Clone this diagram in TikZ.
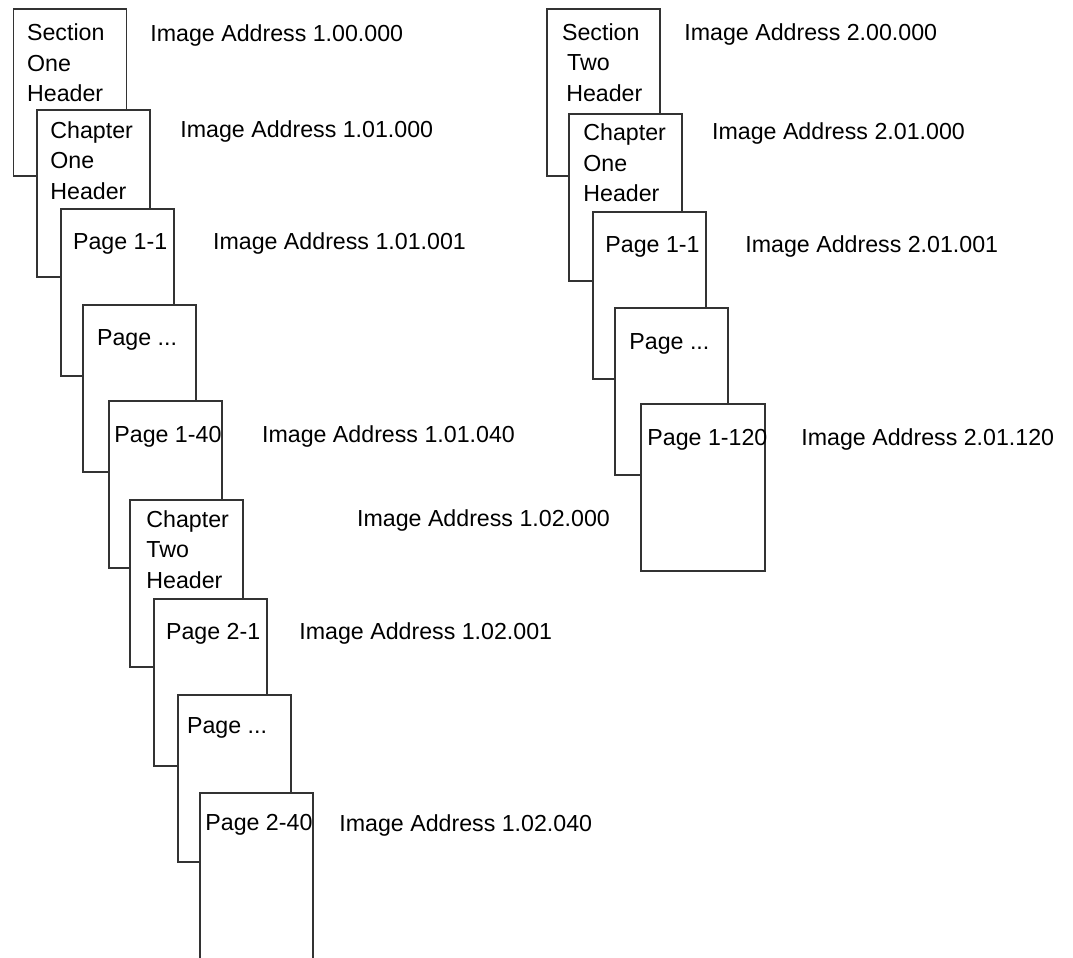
\documentclass[tikz,border=0pt]{standalone}
\usepackage{fontspec}
\setmainfont{Liberation Sans}
\begin{document}
\begin{tikzpicture}[x=0.5pt,y=-0.5pt,
  pg/.style={draw=black!80,line width=0.75pt,fill=white,anchor=north west,inner sep=0pt,
    minimum width=56.5pt,minimum height=83.5pt},
  tx/.style={anchor=base west,inner sep=0pt,align=left,font=\fontsize{11.6}{15.25}\selectfont}]
\useasboundingbox (0,0) rectangle (1073,958);
\node[pg] (secone) at (12.5,8) {};
  \node[tx] (seconet) at (26.7,101.5) {Section\\One\\Header};
  \node[tx] (addrsecone) at (150,41.5) {Image Address 1.00.000};
\node[pg] (chone) at (36,109) {};
  \node[tx] (chonet) at (50,199) {Chapter\\One\\Header};
  \node[tx] (addrchone) at (180,137) {Image Address 1.01.000};
\node[pg] (pgoneone) at (60,208) {};
  \node[tx] (pgoneonet) at (72.7,249) {Page 1-1};
  \node[tx] (addrpgoneone) at (212.7,249) {Image Address 1.01.001};
\node[pg] (pgonedots) at (82,304) {};
  \node[tx] (pgonedotst) at (96.7,345) {Page ...};
\node[pg] (pgonefourty) at (108,400) {};
  \node[tx] (pgonefourtyt) at (114,442) {Page 1-40};
  \node[tx] (addrpgonefourty) at (261.7,442) {Image Address 1.01.040};
\node[pg] (chtwo) at (129,499) {};
  \node[tx] (chtwot) at (146,588) {Chapter\\Two\\Header};
  \node[tx] (addrchtwo) at (356.7,526.7) {Image Address 1.02.000};
\node[pg] (pgtwoone) at (153,598) {};
  \node[tx] (pgtwoonet) at (165.7,639) {Page 2-1};
  \node[tx] (addrpgtwoone) at (299,639) {Image Address 1.02.001};
\node[pg] (pgtwodots) at (177,694) {};
  \node[tx] (pgtwodotst) at (186.7,733) {Page ...};
\node[pg] (pgtwofourty) at (199,792) {};
  \node[tx] (pgtwofourtyt) at (205,830.7) {Page 2-40};
  \node[tx] (addrpgtwofourty) at (339,831) {Image Address 1.02.040};
\node[pg] (sectwo) at (546,8) {};
  \node[tx] (sectwot) at (561.7,101) {Section\\\hspace*{0.22em}Two\\\hspace*{0.18em}Header};
  \node[tx] (addrsectwo) at (684,40.7) {Image Address 2.00.000};
\node[pg] (bchone) at (568,113) {};
  \node[tx] (bchonet) at (583,201.5) {Chapter\\One\\Header};
  \node[tx] (addrbchone) at (711.7,140) {Image Address 2.01.000};
\node[pg] (bpgoneone) at (592,211) {};
  \node[tx] (bpgoneonet) at (605,252) {Page 1-1};
  \node[tx] (addrbpgoneone) at (745,252) {Image Address 2.01.001};
\node[pg] (bpgonedots) at (614,307) {};
  \node[tx] (bpgonedotst) at (629,349) {Page ...};
\node[pg,minimum width=62pt] (bpgonelast) at (640,403) {};
  \node[tx] (bpgonelastt) at (647,445) {Page 1-120};
  \node[tx] (addrbpgonelast) at (801,445) {Image Address 2.01.120};
\end{tikzpicture}
\end{document}
